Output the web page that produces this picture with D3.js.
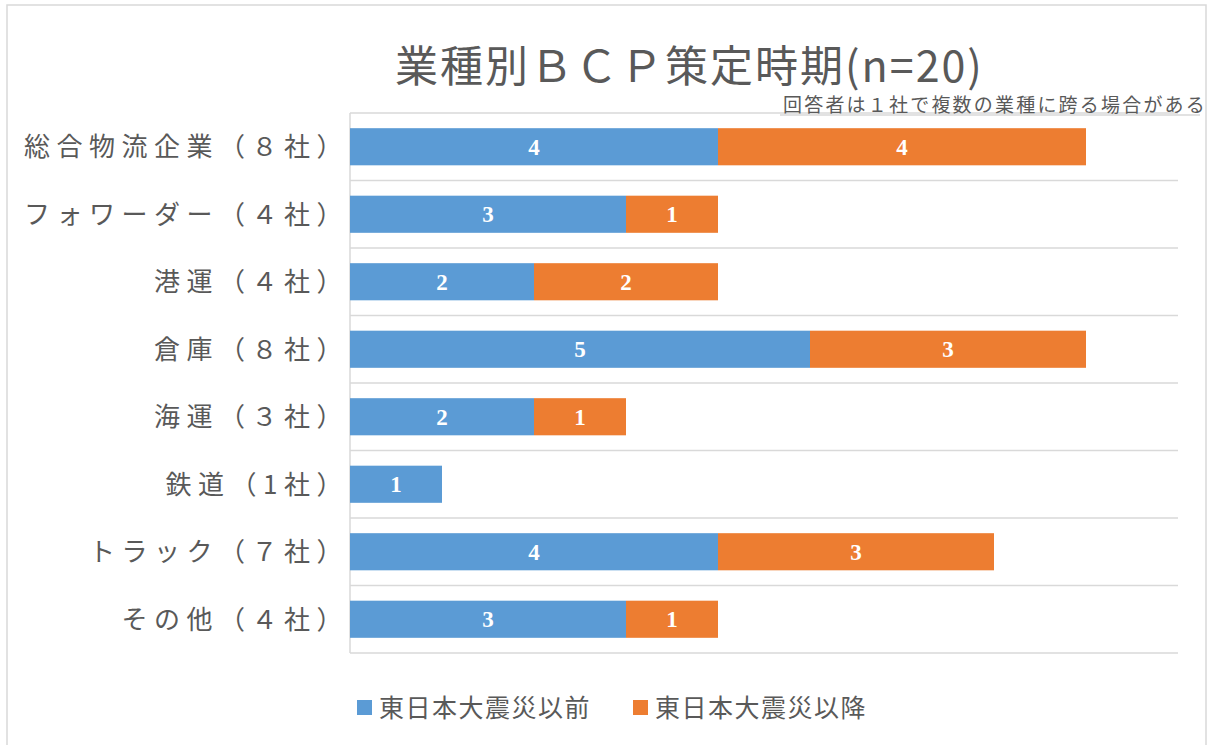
<!DOCTYPE html>
<html>
<head>
<meta charset="utf-8">
<script src="https://cdn.jsdelivr.net/npm/d3@7"></script>
<style>
html,body{margin:0;padding:0;background:#fff;}
svg{display:block;}
</style>
</head>
<body>
<svg id="chart" width="1208" height="745"></svg>
<script>
const categories = ["総合物流企業（８社）","フォワーダー（４社）","港運（４社）","倉庫（８社）","海運（３社）","鉄道（1社）","トラック（７社）","その他（４社）"];
const seriesNames = ["東日本大震災以前","東日本大震災以降"];
const beforeValues = [4,3,2,5,2,1,4,3];
const afterValues  = [4,1,2,3,1,0,3,1];
const xTicks = [0,1,2,3,4,5,6,7,8,9];
const titleText = "業種別ＢＣＰ策定時期(n=20)";
const noteText = "回答者は１社で複数の業種に跨る場合がある";

const colors = ["#5B9BD5","#ED7D31"];
const textGray = "#595959";
const gridGray = "#d9d9d9";
const sans = "'Noto Sans CJK JP','Noto Sans',sans-serif";
const serif = "'Liberation Serif','DejaVu Serif',serif";

const svg = d3.select("#chart");

// chart frame
svg.append("rect").attr("x",7).attr("y",5).attr("width",1199).attr("height",760)
  .attr("fill","#fff").attr("stroke",gridGray).attr("stroke-width",1.5);

const x = d3.scaleLinear().domain([0, d3.max(xTicks)]).range([350,1178]);
const y = d3.scaleBand().domain(categories).range([113,653]).paddingInner(0.45).paddingOuter(0.225);
const step = y.step();

// gridlines at category boundaries
const bounds = d3.range(categories.length+1).map(i => 113 + i*step);
svg.append("g").selectAll("line").data(bounds).join("line")
  .attr("x1",x(0)).attr("x2",x(d3.max(xTicks)))
  .attr("y1",d=>d).attr("y2",d=>d)
  .attr("stroke",gridGray).attr("stroke-width",1.5);

// line under the note box
svg.append("line").attr("x1",780).attr("x2",1200).attr("y1",115).attr("y2",115)
  .attr("stroke",gridGray).attr("stroke-width",1.5);

// left axis line
svg.append("line").attr("x1",x(0)).attr("x2",x(0)).attr("y1",113).attr("y2",653)
  .attr("stroke",gridGray).attr("stroke-width",1.5);

// stacked data
const rows = categories.map((c,i)=>({cat:c, before:beforeValues[i], after:afterValues[i]}));
const stack = d3.stack().keys(["before","after"])(rows);

const layers = svg.append("g").selectAll("g").data(stack).join("g")
  .attr("fill",(d,i)=>colors[i]);
layers.selectAll("rect").data(d=>d.filter(p=>p[1]-p[0]>0)).join("rect")
  .attr("x",d=>x(d[0])).attr("width",d=>x(d[1])-x(d[0]))
  .attr("y",d=>y(d.data.cat)).attr("height",y.bandwidth());

// value labels
const lab = svg.append("g");
stack.forEach(layer=>{
  layer.forEach(p=>{
    const v = p[1]-p[0];
    if(v<=0) return;
    lab.append("text")
      .attr("x",(x(p[0])+x(p[1]))/2)
      .attr("y",y(p.data.cat)+y.bandwidth()/2)
      .attr("dy","0.35em")
      .attr("text-anchor","middle")
      .attr("fill","#fff")
      .attr("font-family",serif).attr("font-weight","bold").attr("font-size",23)
      .text(v);
  });
});

// category labels
svg.append("g").selectAll("text").data(categories).join("text")
  .attr("x",349).attr("y",d=>y(d)+y.bandwidth()/2).attr("dy","0.36em")
  .attr("text-anchor","end")
  .attr("fill",textGray).attr("font-family",sans).attr("font-size",26)
  .attr("letter-spacing",6.5)
  .text(d=>d);

// title
svg.append("text").attr("x",395).attr("y",82)
  .attr("fill",textGray).attr("font-family",sans).attr("font-size",43)
  .attr("letter-spacing",2)
  .text(titleText);

// note
svg.append("text").attr("x",783).attr("y",112)
  .attr("fill",textGray).attr("font-family",sans).attr("font-size",19)
  .attr("letter-spacing",2.2)
  .text(noteText);

// legend
const legX = [357,633];
const lg = svg.append("g").selectAll("g").data(seriesNames).join("g")
  .attr("transform",(d,i)=>`translate(${legX[i]},700)`);
lg.append("rect").attr("width",15).attr("height",15).attr("fill",(d,i)=>colors[i]);
lg.append("text").attr("x",22).attr("y",8).attr("dy","0.36em")
  .attr("fill",textGray).attr("font-family",sans).attr("font-size",25)
  .attr("letter-spacing",1.5)
  .text(d=>d);
</script>
</body>
</html>
